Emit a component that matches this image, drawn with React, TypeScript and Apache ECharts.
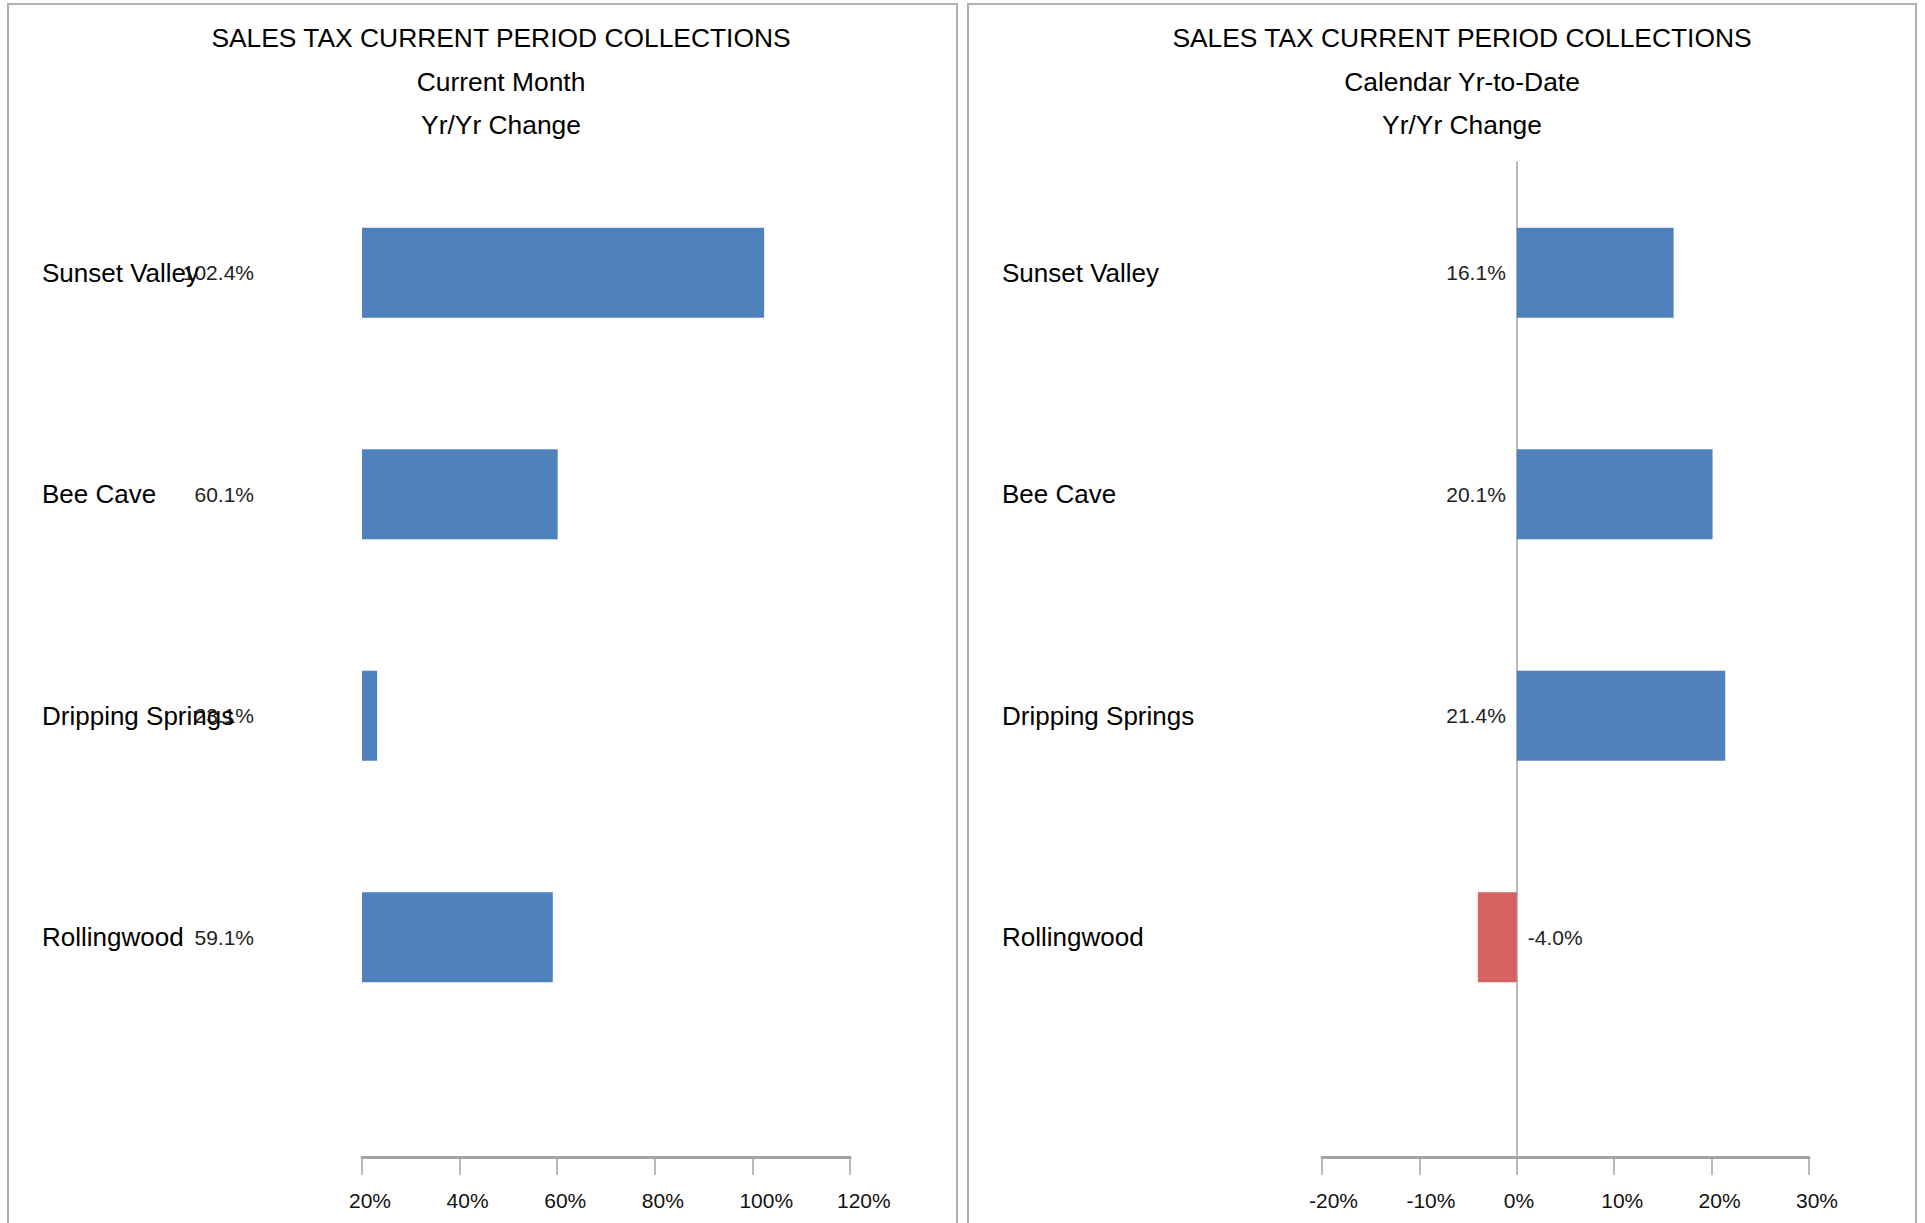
import React, { useEffect, useRef } from "react";
import * as echarts from "echarts";

const categories = ["Sunset Valley", "Bee Cave", "Dripping Springs", "Rollingwood"];
const monthChange = [102.4, 60.1, 23.1, 59.1];
const ytdChange = [16.1, 20.1, 21.4, -4.0];
const monthAxis = { min: 20, max: 120, interval: 20 };
const ytdAxis = { min: -20, max: 30, interval: 10 };
const leftTitle = ["SALES TAX CURRENT PERIOD COLLECTIONS", "Current Month", "Yr/Yr Change"];
const rightTitle = ["SALES TAX CURRENT PERIOD COLLECTIONS", "Calendar Yr-to-Date", "Yr/Yr Change"];

const FONT = '"Liberation Sans", Arial, Helvetica, sans-serif';
const BLUE = "#4F81BD";
const RED = "#D66262";
const AXIS_GREY = "#A3A3A3";

export default function App() {
  const ref = useRef<HTMLDivElement>(null);
  useEffect(() => {
    if (!ref.current) return;
    const chart = echarts.init(ref.current, undefined, { renderer: "svg" });

    const PLOT_TOP = 162;
    const BAR_H = 886;
    const AXIS_H = 995;
    const L_LEFT = 362, L_W = 488;
    const R_LEFT = 1322, R_W = 487;
    const LABEL_SHIFT = 13;

    const grids = [
      { left: L_LEFT, top: PLOT_TOP, width: L_W, height: BAR_H },
      { left: L_LEFT, top: PLOT_TOP, width: L_W, height: AXIS_H },
      { left: L_LEFT - LABEL_SHIFT, top: PLOT_TOP, width: L_W, height: AXIS_H },
      { left: R_LEFT, top: PLOT_TOP, width: R_W, height: BAR_H },
      { left: R_LEFT, top: PLOT_TOP, width: R_W, height: AXIS_H },
      { left: R_LEFT - LABEL_SHIFT, top: PLOT_TOP, width: R_W, height: AXIS_H },
    ];

    const hiddenX = (gridIndex: number, ax: any) => ({
      type: "value", gridIndex, ...ax,
      axisLine: { show: false }, axisTick: { show: false }, axisLabel: { show: false }, splitLine: { show: false },
    });
    const lineX = (gridIndex: number, ax: any) => ({
      type: "value", gridIndex, ...ax,
      axisLine: { show: true, onZero: false, lineStyle: { color: AXIS_GREY, width: 3 } },
      axisTick: { show: true, length: 18, lineStyle: { color: AXIS_GREY, width: 1.5 } },
      axisLabel: { show: false }, splitLine: { show: false },
    });
    const labelX = (gridIndex: number, ax: any) => ({
      type: "value", gridIndex, ...ax,
      axisLine: { show: false, onZero: false }, axisTick: { show: false }, splitLine: { show: false },
      axisLabel: { show: true, align: "left", margin: 33, fontSize: 21, fontFamily: FONT, color: "#111", formatter: "{value}%" },
    });
    const hiddenY = (gridIndex: number) => ({
      type: "category", gridIndex, data: categories, inverse: true,
      axisLine: { show: false, onZero: false }, axisTick: { show: false }, axisLabel: { show: false }, splitLine: { show: false },
    });
    const nameY = (gridIndex: number) => ({
      type: "category", gridIndex, data: categories, inverse: true, position: "left",
      axisLine: { show: false, onZero: false }, axisTick: { show: false }, splitLine: { show: false },
      axisLabel: { show: true, align: "left", margin: 320, fontSize: 26, fontFamily: FONT, color: "#000", padding: [0, 0, 4, 0] },
    });

    const option: any = {
      animation: false,
      backgroundColor: "#ffffff",
      grid: grids,
      xAxis: [
        hiddenX(0, monthAxis),
        lineX(1, monthAxis),
        labelX(2, monthAxis),
        hiddenX(3, ytdAxis),
        lineX(4, ytdAxis),
        labelX(5, ytdAxis),
      ],
      yAxis: [
        {
          type: "category", gridIndex: 0, data: categories, inverse: true, position: "left",
          axisLine: { show: false, onZero: false }, axisTick: { show: false }, splitLine: { show: false },
          axisLabel: {
            show: true, margin: 108, fontSize: 21, fontFamily: FONT, color: "#222", padding: [0, 0, 2, 0],
            formatter: (_v: string, i: number) => monthChange[i].toFixed(1) + "%",
          },
        },
        nameY(0),
        hiddenY(1),
        hiddenY(2),
        nameY(3),
        {
          type: "category", gridIndex: 4, data: categories, inverse: true,
          axisLine: { show: true, onZero: true, lineStyle: { color: AXIS_GREY, width: 1.5 } },
          axisTick: { show: false }, axisLabel: { show: false }, splitLine: { show: false },
        },
        hiddenY(5),
      ],
      series: [
        {
          type: "bar", xAxisIndex: 0, yAxisIndex: 0, data: monthChange, barWidth: 90,
          itemStyle: { color: BLUE }, clip: true, z: 3,
        },
        {
          type: "bar", xAxisIndex: 3, yAxisIndex: 4, barWidth: 90, clip: true, z: 3,
          data: ytdChange.map((v) => ({
            value: v,
            itemStyle: { color: v < 0 ? RED : BLUE },
            label: { position: v < 0 ? "right" : "left" },
          })),
          label: {
            show: true, distance: 11, fontSize: 21, fontFamily: FONT, color: "#222", padding: [0, 0, 2, 0],
            formatter: (p: any) => Number(p.value).toFixed(1) + "%",
          },
        },
      ],
      graphic: [
        { type: "rect", shape: { x: 8, y: 4, width: 949, height: 1400 }, style: { fill: "none", stroke: "#B0B0B0", lineWidth: 2 }, silent: true },
        { type: "rect", shape: { x: 968, y: 4, width: 948, height: 1400 }, style: { fill: "none", stroke: "#B0B0B0", lineWidth: 2 }, silent: true },
        ...leftTitle.map((t, i) => ({
          type: "text", x: 501, y: [38, 82, 125][i],
          style: { text: t, align: "center", verticalAlign: "middle", fontSize: 26.4, fontFamily: FONT, fill: "#000" },
        })),
        ...rightTitle.map((t, i) => ({
          type: "text", x: 1462, y: [38, 82, 125][i],
          style: { text: t, align: "center", verticalAlign: "middle", fontSize: 26.4, fontFamily: FONT, fill: "#000" },
        })),
      ],
    };
    chart.setOption(option);
    return () => chart.dispose();
  }, []);

  return (
    <div
      ref={ref}
      style={{ position: "absolute", left: 0, top: 0, width: 1925, height: 1223, background: "#fff" }}
    />
  );
}
